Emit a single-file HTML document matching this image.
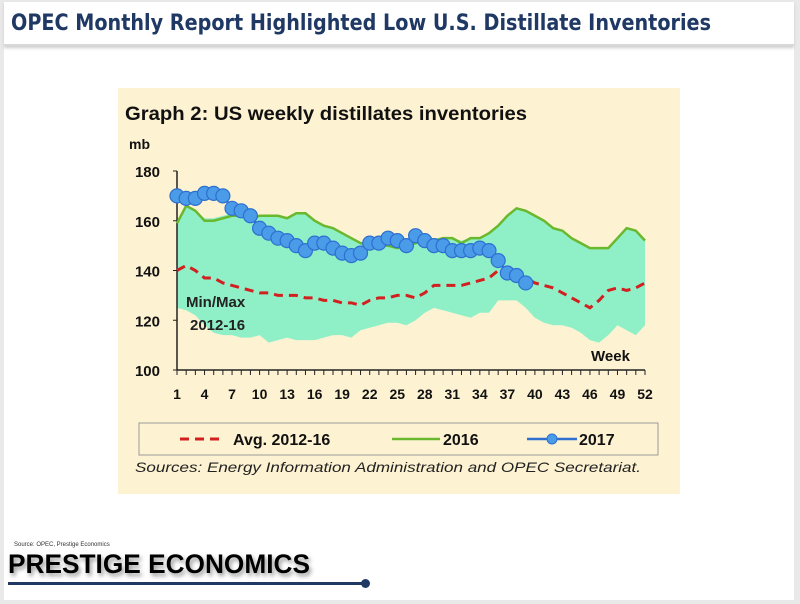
<!DOCTYPE html>
<html><head><meta charset="utf-8"><style>
body{margin:0;width:800px;height:604px;background:#e9e9e9;font-family:"Liberation Sans",sans-serif;overflow:hidden;position:relative}
#slide{position:absolute;left:4px;top:2px;width:790px;height:598px;background:#fff}
#titlebar{position:absolute;left:4px;top:2px;width:790px;height:42px;background:#fff;border-bottom:2px solid #d8d8d8;box-shadow:0 2px 3px #ccc}
#chartbox{position:absolute;left:118px;top:88px;width:562px;height:406px;background:#fdf2d2}
#src{position:absolute;left:14px;top:542px;font-size:6px;color:#333}
#brandline{position:absolute;left:8px;top:582px;width:358px;height:3px;background:#1f3864}
#branddot{position:absolute;left:361px;top:579px;width:9px;height:9px;border-radius:50%;background:#1f3864}
</style></head><body>
<div id="slide"></div>
<div id="titlebar"></div>
<div id="chartbox"></div>
<svg id="chart" width="800" height="604" style="position:absolute;left:0;top:0" font-family="Liberation Sans, sans-serif">
<text x="11" y="30" font-size="22" font-weight="bold" fill="#1f3864" textLength="700" lengthAdjust="spacingAndGlyphs" font-family="DejaVu Sans, sans-serif">OPEC Monthly Report Highlighted Low U.S. Distillate Inventories</text>
<text x="8" y="573" font-size="27" font-weight="bold" fill="#000" textLength="302" lengthAdjust="spacingAndGlyphs" style="filter:drop-shadow(2px 3px 2px #999)">PRESTIGE ECONOMICS</text>
</svg>
<div id="src">Source: OPEC, Prestige Economics</div>
<div id="brandline"></div>
<div id="branddot"></div>
<script>
const weeks=[];for(let i=1;i<=52;i++)weeks.push(i);
const xTicks=[1,4,7,10,13,16,19,22,25,28,31,34,37,40,43,46,49,52];
const yTicks=[100,120,140,160,180];
const s2017=[170,169,169,171,171,170,165,164,162,157,155,153,152,150,148,151,151,149,147,146,147,151,151,153,152,150,154,152,150,150,148,148,148,149,148,144,139,138,135];
const s2016=[159,166,164,160,160,161,162,162,161,162,162,162,161,163,163,160,158,157,155,153,151,150,150,150,149,150,151,152,152,153,153,151,153,153,155,158,162,165,164,162,160,157,156,153,151,149,149,149,153,157,156,152];
const avg=[140,142,140,137,137,135,134,133,132,131,131,130,130,130,129,129,128,128,127,127,126,128,129,129,130,130,129,131,134,134,134,134,135,136,137,140,139,139,137,135,134,133,131,129,127,125,128,132,133,132,133,135];
const maxv=[159,166,164,161,161,162,163,163,162,162,162,162,161,163,163,160,158,157,155,153,151,151,152,153,153,152,154,153,153,153,153,152,153,153,155,158,162,165,164,162,160,157,156,153,151,149,149,149,153,157,156,152];
const minv=[125,124,122,118,115,114,114,113,113,114,111,112,113,112,112,112,113,114,114,113,116,117,118,119,119,118,120,123,125,124,123,122,121,123,123,128,128,128,125,121,119,118,118,117,115,112,111,114,118,116,114,118];
const X=w=>177+(w-1)*(645-177)/51;
const Y=v=>370-(v-100)*(370-171)/80;
const svg=document.getElementById('chart');const NS='http://www.w3.org/2000/svg';
function mk(t,a,p){const e=document.createElementNS(NS,t);for(const k in a)e.setAttribute(k,a[k]);(p||svg).appendChild(e);return e;}
function txt(x,y,s,a){const e=mk('text',Object.assign({x:x,y:y},a));e.textContent=s;return e;}
let t=txt(125,120,'Graph 2: US weekly distillates inventories',{'font-size':19,'font-weight':'bold',fill:'#111',textLength:402,lengthAdjust:'spacingAndGlyphs'});


t=txt(129,149,'mb',{'font-size':14,'font-weight':'bold',fill:'#111'});


let d='M'+weeks.map((w,i)=>X(w)+','+Y(maxv[i])).join('L');
for(let i=weeks.length-1;i>=0;i--)d+='L'+X(weeks[i])+','+Y(minv[i]);
let e=mk('path',{d:d+'Z',fill:'#8ff0c8'});


e=mk('line',{x1:177,y1:171,x2:177,y2:370,stroke:'#222','stroke-width':1.5});


e=mk('line',{x1:177,y1:370,x2:645,y2:370,stroke:'#222','stroke-width':1.5});


yTicks.forEach(v=>{mk('line',{x1:173,x2:177,y1:Y(v),y2:Y(v),stroke:'#222'});
 const l=txt(160,Y(v)+6,String(v),{'font-size':15,'font-weight':'bold','text-anchor':'end',fill:'#111'});
 
 });
weeks.forEach(w=>mk('line',{x1:X(w),x2:X(w),y1:370,y2:375,stroke:'#222'}));
xTicks.forEach(w=>{const l=txt(X(w),399,String(w),{'font-size':14,'font-weight':'bold','text-anchor':'middle',fill:'#111'});
 
 });
t=txt(591,361,'Week',{'font-size':15,'font-weight':'bold',fill:'#111'});


t=txt(186,307,'Min/Max',{'font-size':15,'font-weight':'bold',fill:'#222'});


t=txt(190,330,'2012-16',{'font-size':15,'font-weight':'bold',fill:'#222'});


const line=(arr)=>'M'+arr.map((v,i)=>X(weeks[i])+','+Y(v)).join('L');
e=mk('path',{d:line(avg),fill:'none',stroke:'#d22020','stroke-width':3,'stroke-dasharray':'9,6'});


e=mk('path',{d:line(s2016),fill:'none',stroke:'#6ab82e','stroke-width':2.5});


e=mk('path',{d:line(s2017),fill:'none',stroke:'#2e6fd0','stroke-width':2.5});


s2017.forEach((v,i)=>{const c=mk('circle',{cx:X(weeks[i]),cy:Y(v),r:7,fill:'#4a9be8',stroke:'#2e6fd0','stroke-width':1.2});
 
 });
e=mk('rect',{x:139,y:423,width:519,height:32,fill:'#fdf2d2',stroke:'#999','stroke-width':1});


mk('line',{x1:180,x2:224,y1:439,y2:439,stroke:'#d22020','stroke-width':3,'stroke-dasharray':'9,6'});
t=txt(233,445,'Avg. 2012-16',{'font-size':16,'font-weight':'bold',fill:'#111'});


mk('line',{x1:392,x2:440,y1:439,y2:439,stroke:'#6ab82e','stroke-width':2.5});
t=txt(443,445,'2016',{'font-size':16,'font-weight':'bold',fill:'#111'});


mk('line',{x1:527,x2:577,y1:439,y2:439,stroke:'#2e6fd0','stroke-width':2.5});
mk('circle',{cx:552,cy:439,r:5,fill:'#4a9be8',stroke:'#2e6fd0'});
t=txt(579,445,'2017',{'font-size':16,'font-weight':'bold',fill:'#111'});


t=txt(135,472,'Sources: Energy Information Administration and OPEC Secretariat.',{'font-size':14,'font-style':'italic',fill:'#222',textLength:506,lengthAdjust:'spacingAndGlyphs'});


</script>
</body></html>
